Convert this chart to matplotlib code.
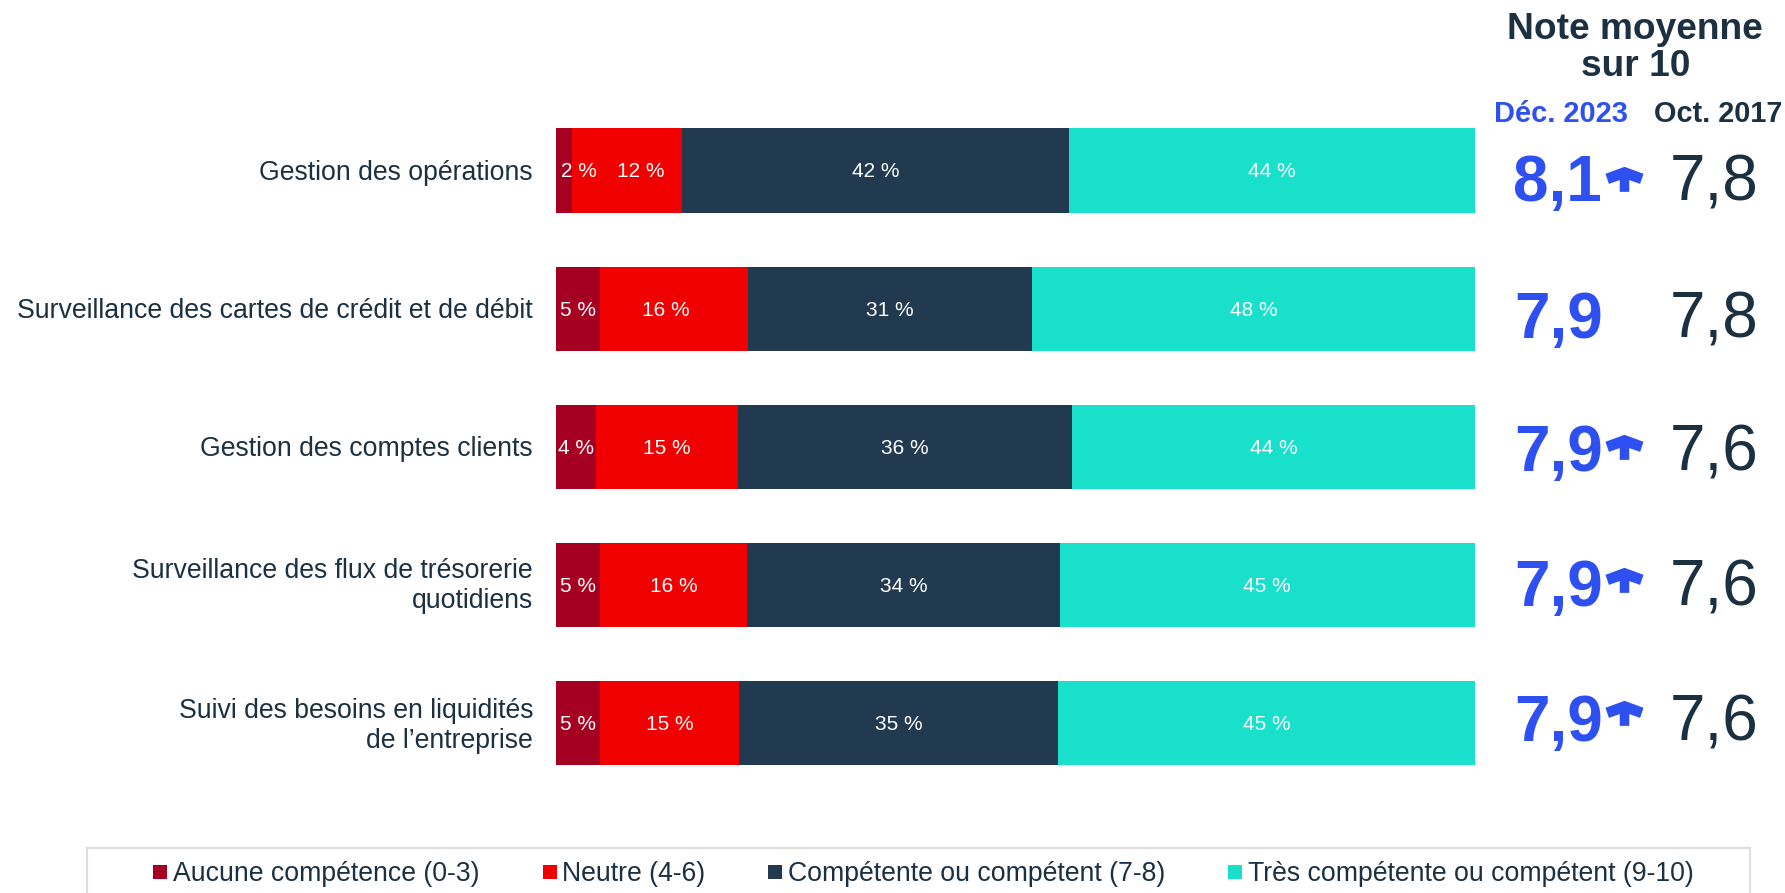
import matplotlib
matplotlib.use("Agg")
import matplotlib.pyplot as plt
from matplotlib.patches import Rectangle
from matplotlib.path import Path
from matplotlib.lines import Line2D
from matplotlib.transforms import blended_transform_factory, ScaledTranslation

plt.rcParams['font.family'] = ['Liberation Sans', 'DejaVu Sans']

categories = ["Gestion des opérations",
              "Surveillance des cartes de crédit et de débit",
              "Gestion des comptes clients",
              "Surveillance des flux de trésorerie\nquotidiens",
              "Suivi des besoins en liquidités\nde l’entreprise"]
series_names = ["Aucune compétence (0-3)", "Neutre (4-6)",
                "Compétente ou compétent (7-8)", "Très compétente ou compétent (9-10)"]
aucune = [1.7, 4.8, 4.4, 4.8, 4.8]
neutre = [12.0, 16.1, 15.4, 16.0, 15.1]
competent = [42.1, 30.9, 36.4, 34.0, 34.7]
tres = [44.2, 48.2, 43.8, 45.2, 45.4]
labels_aucune = [2, 5, 4, 5, 5]
labels_neutre = [12, 16, 15, 16, 15]
labels_competent = [42, 31, 36, 34, 35]
labels_tres = [44, 48, 44, 45, 45]
note_2023 = ["8,1", "7,9", "7,9", "7,9", "7,9"]
note_2017 = ["7,8", "7,8", "7,6", "7,6", "7,6"]
hausse = [True, False, True, True, True]

DARK = "#1B3142"
BLUE = "#2E50F0"
colors = ["#A50021", "#F00000", "#223A50", "#18E0CB"]
W, H = 1785, 893

fig = plt.figure(figsize=(W/100, H/100), dpi=100, facecolor="white")
ax = fig.add_axes([556/W, 1-792/H, (1475-556)/W, (792-101.5)/H])
series = [aucune, neutre, competent, tres]
text_labels = [labels_aucune, labels_neutre, labels_competent, labels_tres]
ypos = list(range(len(categories)))
# label placement quirks of the original, (segment, row) -> shift in axis units
label_shift = {(0, 0): 1.6, (1, 0): 1.5, (1, 1): -0.85}
for i, (vals, lab, col, name) in enumerate(zip(series, text_labels, colors, series_names)):
    left = [sum(series[k][r] for k in range(i)) for r in ypos]
    ax.barh(ypos, vals, left=left, height=0.61, color=col, label=name, linewidth=0)
    for r in ypos:
        cx = left[r] + vals[r]/2 + label_shift.get((i, r), 0)
        ax.annotate(f"{lab[r]} %", (cx, r), xytext=(0, -1), textcoords="offset points",
                    color="white", fontsize=15, ha="center", va="center")

ax.set_xlim(0, 100)
ax.set_ylim(len(categories)-0.5, -0.5)
ax.set_yticks(ypos)
ax.set_yticklabels(categories, fontsize=19.2, color=DARK, linespacing=1.2)
ax.tick_params(axis="y", length=0, pad=16.5)
ax.xaxis.set_visible(False)
for s in ax.spines.values():
    s.set_visible(False)
ax.patch.set_visible(False)

dy = lambda px: ScaledTranslation(0, -px*0.01, fig.dpi_scale_trans)
label_lift = [1, 1, 1, 3.4, 2.3]
for lbl, lift in zip(ax.get_yticklabels(), label_lift):
    lbl.set_transform(lbl.get_transform() + dy(-lift))

fx = lambda px: px/W
tr = blended_transform_factory(fig.transFigure, ax.transData)
arrow = Path([(0, 0.667), (1, 0.3), (0.82, -0.23), (0.25, -0.03), (0.25, -0.65),
              (-0.25, -0.65), (-0.25, -0.03), (-0.82, -0.23), (-1, 0.3), (0, 0.667)], closed=True)
base_shift = [30, 29, 24, 21, 18]
arrow_shift = [8, 0, 0, -5, -9.5]
for r in ypos:
    t = tr + dy(base_shift[r])
    xb = 1557 if r == 0 else 1559
    ax.text(fx(xb), r, note_2023[r], transform=t, color=BLUE, fontsize=46, fontweight="bold",
            ha="center", va="baseline", clip_on=False)
    ax.text(fx(1714), r, note_2017[r], transform=t, color=DARK, fontsize=46,
            ha="center", va="baseline", clip_on=False)
    if hausse[r]:
        ax.scatter([fx(1624)], [r], marker=arrow, s=750, color=BLUE, linewidths=0,
                   transform=tr + dy(arrow_shift[r]), clip_on=False)

fig.text(1635/W, 1-39/H, "Note moyenne", color=DARK, fontsize=26.7, fontweight="bold", ha="center", va="baseline")
fig.text(1636/W, 1-76/H, "sur 10", color=DARK, fontsize=26.7, fontweight="bold", ha="center", va="baseline")
fig.text(1561/W, 1-122/H, "Déc. 2023", color=BLUE, fontsize=20.9, fontweight="bold", ha="center", va="baseline")
fig.text(1718/W, 1-122/H, "Oct. 2017", color=DARK, fontsize=20.8, fontweight="bold", ha="center", va="baseline")

fig.add_artist(Rectangle((87/W, -2/H), (1750-87)/W, (893-848+2)/H, transform=fig.transFigure,
                         facecolor="white", edgecolor="#DEDEDE", linewidth=1.5))
handles = [Line2D([], [], linestyle="none", marker="s", markersize=10.5, color=c, markeredgewidth=0) for c in colors]
fig.legend(handles, series_names, loc="center", bbox_to_anchor=(923/W, 1-874/H), ncol=4, frameon=False,
           fontsize=19.15, labelcolor=DARK, handlelength=0.6, handletextpad=0.17, columnspacing=2.34,
           borderpad=0, borderaxespad=0)
fig.savefig("out.png", dpi=100)
